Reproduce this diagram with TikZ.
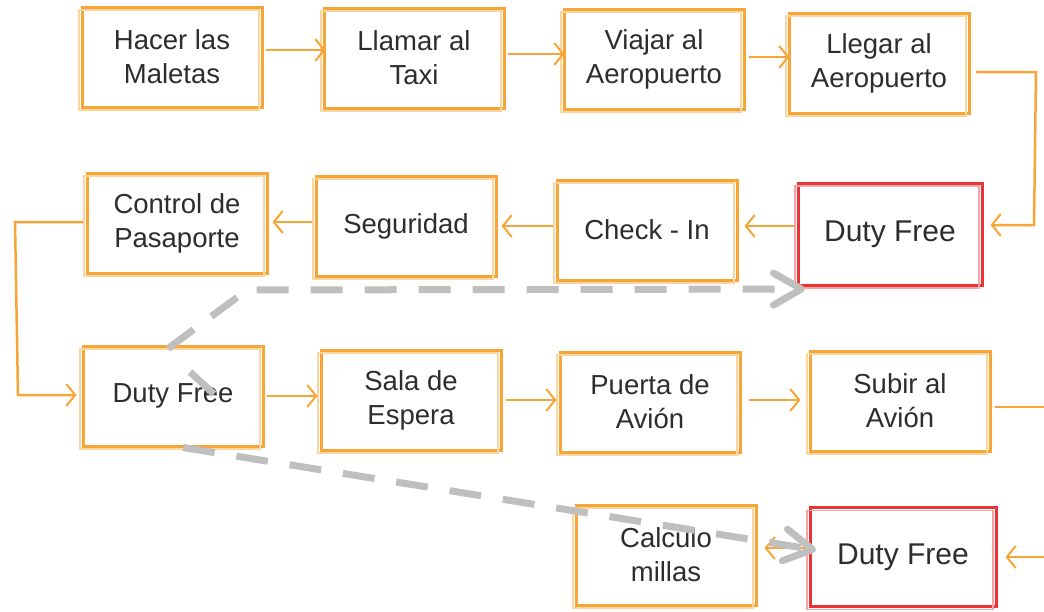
\documentclass[tikz,border=0pt]{standalone}
\usepackage{fontspec}
\setmainfont{Liberation Sans}
\usetikzlibrary{arrows.meta}
\definecolor{org}{RGB}{247,165,55}
\definecolor{orgl}{RGB}{252,214,160}
\definecolor{rd}{RGB}{234,50,55}
\definecolor{rdl}{RGB}{246,165,165}
\definecolor{gr}{RGB}{191,191,191}
\definecolor{txt}{RGB}{45,45,45}
\begin{document}
\begin{tikzpicture}[x=1pt,y=-1pt,
  basebox/.style={line width=3pt, fill=white, minimum width=180pt, minimum height=100pt,
    align=center, text=txt, inner sep=0pt},
  box/.style={basebox, draw=org, font=\fontsize{27.5}{34}\selectfont,
    postaction={draw=orgl, line width=1.5pt, transform canvas={shift={(-3pt,-3pt)}}}},
  redbox/.style={basebox, draw=rd, font=\fontsize{30}{36}\selectfont,
    postaction={draw=rdl, line width=1.5pt, transform canvas={shift={(-3pt,-3pt)}}}},
  flow/.style={draw=org, line width=2.5pt, line cap=round,
    -{Straight Barb[length=9pt,width=22pt,line width=2pt]}},
  greydash/.style={draw=gr, line width=7pt, dash pattern=on 32pt off 22pt},
  greyarrow/.style={greydash, -{Straight Barb[length=28pt,width=32pt,round]}}
]
\useasboundingbox (0,0) rectangle (1044,611);

% row 1
\node[box] (hacer)  at (172,57)  {Hacer las\\Maletas};
\node[box] (llamar) at (414,58)  {Llamar al\\Taxi};
\node[box] (viajar) at (654,59)  {Viajar al\\Aeropuerto};
\node[box] (llegar) at (879,63)  {Llegar al\\Aeropuerto};
% row 2
\node[redbox, minimum width=184pt, minimum height=102pt] (df1) at (890,234) {Duty Free};
\node[box] (checkin) at (647,230) {Check - In};
\node[box] (seg)     at (406,226) {Seguridad};
\node[box] (control) at (177,223) {Control de\\Pasaporte};
% row 3
\node[box] (df2)    at (173,396) {Duty Free};
\node[box] (sala)   at (411,400) {Sala de\\Espera};
\node[box] (puerta) at (650,402) {Puerta de\\Avión};
\node[box] (subir)  at (900,401) {Subir al\\Avión};
% row 4
\node[box] (calculo) at (666,555) {Calculo\\millas};
\node[redbox, minimum width=186pt, minimum height=99pt] (df3) at (903,557) {Duty Free};

% corner coordinates
\coordinate (c1) at (1036,72);
\coordinate (c2) at (1034,225);
\coordinate (c3) at (15,222);
\coordinate (c4) at (18,395);
\coordinate (c5) at (1070,407);
\coordinate (c6) at (1070,557);

% orange flow
\draw[flow] ([xshift=3pt,yshift=7pt]hacer.east) -- ([xshift=3pt,yshift=8pt]llamar.west);
\draw[flow] ([xshift=3pt,yshift=4pt]llamar.east) -- ([xshift=2pt,yshift=5pt]viajar.west);
\draw[flow] ([xshift=4pt,yshift=2pt]viajar.east) -- ([xshift=2pt,yshift=6pt]llegar.west);
\draw[flow] ([xshift=6pt,yshift=-9pt]llegar.east) -- (c1) -- (c2) -- ([xshift=7pt,yshift=9pt]df1.east);
\draw[flow] ([xshift=-3pt,yshift=8pt]df1.west) -- ([xshift=6pt,yshift=4pt]checkin.east);
\draw[flow] ([xshift=-3pt,yshift=4pt]checkin.west) -- ([xshift=4pt]seg.east);
\draw[flow] ([xshift=-3pt,yshift=4pt]seg.west) -- ([xshift=4pt,yshift=1pt]control.east);
\draw[flow] ([xshift=-3pt,yshift=1pt]control.west) -- (c3) -- (c4) -- ([xshift=-5pt,yshift=1pt]df2.west);
\draw[flow] ([xshift=3pt]df2.east) -- ([xshift=-2pt,yshift=4pt]sala.west);
\draw[flow] ([xshift=4pt]sala.east) -- ([xshift=-2pt,yshift=2pt]puerta.west);
\draw[flow] ([xshift=8pt,yshift=2pt]puerta.east) -- ([xshift=-8pt,yshift=1pt]subir.west);
\draw[flow] ([xshift=4pt,yshift=-6pt]subir.east) -- (c5) -- (c6) -- ([xshift=8pt]df3.east);
\draw[flow] ([xshift=-3pt,yshift=9pt]df3.west) -- ([xshift=7pt,yshift=7pt]calculo.east);

% grey dashed arrows
\coordinate (d1k) at (247,290);
\coordinate (d1e) at (805,289);
\coordinate (d2e) at (816,550);
\draw[greyarrow] ([xshift=-5pt,yshift=-4pt]df2.north) -- (d1k) -- (d1e);
\draw[greyarrow] ([xshift=10pt]df2.south) -- (d2e);
\coordinate (d3a) at (190,372);
\coordinate (d3b) at (214,394);
\draw[draw=gr, line width=7pt] (d3a) -- (d3b);
\end{tikzpicture}
\end{document}
